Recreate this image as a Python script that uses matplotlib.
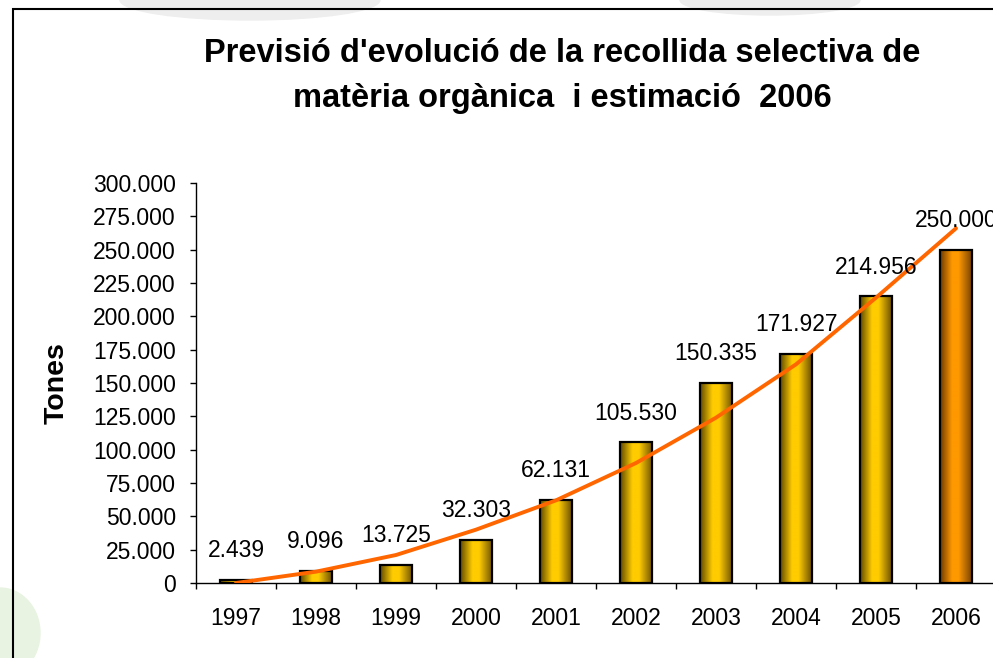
import matplotlib
matplotlib.use("Agg")
import matplotlib.pyplot as plt
import numpy as np
from matplotlib.colors import LinearSegmentedColormap
from matplotlib.patches import Rectangle, Ellipse

# data
years = ["1997", "1998", "1999", "2000", "2001", "2002", "2003", "2004", "2005", "2006"]
tones = [2439, 9096, 13725, 32303, 62131, 105530, 150335, 171927, 214956, 250000]
estimate = [False, False, False, False, False, False, False, False, False, True]
# trend line (polynomial trend drawn by the spreadsheet), read at each year
trend = [0, 8500, 21000, 40000, 62000, 90000, 124000, 164000, 214000, 266000]

plt.rcParams['font.family'] = ['Liberation Sans', 'DejaVu Sans']

gold = LinearSegmentedColormap.from_list(
    "gold", [(0, "#5e4800"), (0.38, "#ffcc00"), (0.58, "#ffcc00"), (1, "#6b5000")])
orange = LinearSegmentedColormap.from_list(
    "orange", [(0, "#6b3800"), (0.38, "#ff9900"), (0.58, "#ff9900"), (1, "#7a4200")])

W, H = 993, 658
fig = plt.figure(figsize=(W / 100, H / 100), dpi=100)
fig.patch.set_facecolor("white")

# faint watermark shapes behind the chart frame
fig.add_artist(Ellipse((250 / W, 1.0), 260 / W, 40 / H, transform=fig.transFigure,
                       color="#eeeeee", zorder=0))
fig.add_artist(Ellipse((770 / W, 1.0), 180 / W, 30 / H, transform=fig.transFigure,
                       color="#eeeeee", zorder=0))
fig.add_artist(Ellipse((0.0, 25 / H), 80 / W, 90 / H, transform=fig.transFigure,
                       color="#e8f3e2", zorder=0))

# chart frame (cut off on right and bottom)
fig.add_artist(Rectangle((12.5 / W, -0.5), 2.0, (H - 8.5) / H + 0.5,
                         transform=fig.transFigure, fill=False,
                         edgecolor="black", linewidth=1.5, zorder=1))

ax = fig.add_axes([196 / W, 75 / H, 800 / W, 400 / H])
ax.patch.set_alpha(0)

x = np.arange(len(years))
w = 0.4
grad = np.linspace(0, 1, 256).reshape(1, -1)
for i, v in enumerate(tones):
    cm = orange if estimate[i] else gold
    ax.imshow(grad, cmap=cm, extent=(x[i] - w / 2, x[i] + w / 2, 0, v),
              aspect="auto", zorder=2, interpolation="bilinear")
ax.bar(x, tones, width=w, fill=False, edgecolor="black", linewidth=1.6, zorder=3)

ax.plot(x, trend, color="#ff6600", linewidth=2.8, zorder=4, solid_capstyle="round")

for i, v in enumerate(tones):
    ax.annotate(f"{v:,}".replace(",", "."), (x[i], v), xytext=(0, 21),
                textcoords="offset points", ha="center", va="center",
                fontsize=16.5, color="black", zorder=5, annotation_clip=False)

ax.set_xlim(-0.5, len(years) - 0.5)
ax.set_ylim(0, 300000)

yt = np.arange(0, 300001, 25000)
ax.set_yticks(yt)
ax.set_yticklabels([f"{int(t):,}".replace(",", ".") for t in yt])
ax.tick_params(axis="y", direction="out", length=4.5, width=1, labelsize=16.5, pad=10)

ax.set_xticks(x)
ax.set_xticklabels(years)
ax.set_xticks(np.arange(-0.5, len(years), 1), minor=True)
ax.tick_params(axis="x", which="major", length=0, labelsize=16.5, pad=17)
ax.tick_params(axis="x", which="minor", direction="out", length=4.5, width=1)

for s in ["top", "right"]:
    ax.spines[s].set_visible(False)
for s in ["left", "bottom"]:
    ax.spines[s].set_linewidth(1)
    ax.spines[s].set_color("black")

ax.set_ylabel("Tones", fontsize=20.5, fontweight="bold")
ax.yaxis.set_label_coords(-126 / 800, 0.5)

fig.text(562 / W, 1 - 53 / H, "Previsió d'evolució de la recollida selectiva de",
         ha="center", va="center", fontsize=23.5, fontweight="bold")
fig.text(562 / W, 1 - 98 / H, "matèria orgànica  i estimació  2006",
         ha="center", va="center", fontsize=23.5, fontweight="bold")

fig.savefig("out.png", dpi=100)
